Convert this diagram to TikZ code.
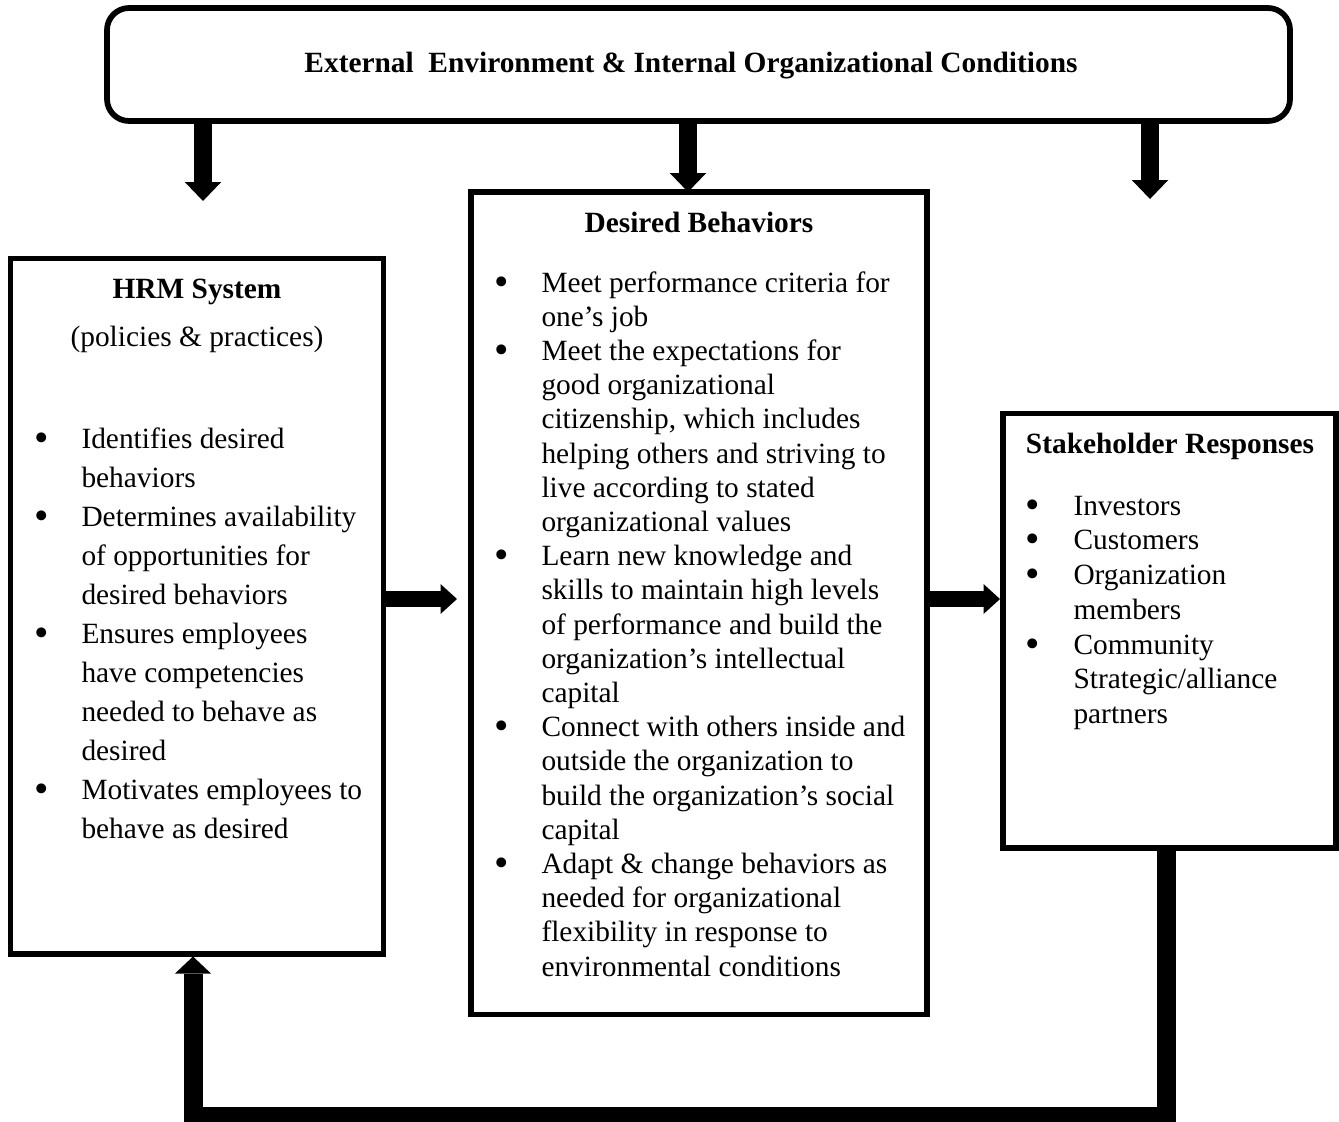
\documentclass[tikz,border=0pt]{standalone}
\usepackage{fontspec}
\setmainfont{Liberation Serif}
\usetikzlibrary{arrows.meta,positioning}
\newcommand{\itemfont}[1]{\fontsize{11.75pt}{#1}\selectfont}
\newcommand{\dotmark}{\smash{\raisebox{-1.2pt}{\fontsize{16.5pt}{0pt}\selectfont\textbullet}}}

\begin{document}
\begin{tikzpicture}[x=0.4pt,y=-0.4pt,
    blockbox/.style={draw,line width=2.1pt,inner sep=0pt,outer sep=0pt},
    boxtitle/.style={font=\fontsize{11.75pt}{14pt}\selectfont\bfseries,anchor=base,inner sep=0pt},
    boxtext/.style={anchor=base west,inner sep=0pt,align=left},
    downarrow/.style={line width=7.2pt,-{Triangle[width=14.6pt,length=7.6pt,line width=0pt]}},
    sidearrow/.style={line width=6.2pt,-{Triangle[width=12pt,length=6.6pt,line width=0pt]}},
    loopline/.style={line width=7.6pt,-{Triangle[width=14.4pt,length=6.8pt,line width=0pt]}}]
      \useasboundingbox (0,0) rectangle (1339,1121);
      \node[blockbox,rounded corners=8.8pt,line width=2.3pt,minimum width=473.2pt,minimum height=45.2pt]
        (env) at (698.5,64.5) {};
      \node[blockbox,minimum width=149.2pt,minimum height=278.2pt] (hrm) at (197,606.25) {};
      \node[blockbox,minimum width=182.4pt,minimum height=329pt] (desired) at (699,603.25) {};
      \node[blockbox,minimum width=133.2pt,minimum height=173.8pt] (stake) at (1169.5,630.75) {};

      \node[boxtitle] (envtitle) at (691,72) {External\ \ Environment \& Internal Organizational Conditions};

      \node[boxtitle] (hrmtitle) at (197,298) {HRM System};
      \node[boxtitle,font=\itemfont{14pt}] (hrmsub) at (197,346) {(policies \& practices)};
      \node[boxtext,font=\itemfont{15.6pt}] (hrmlist) at (34,448) {%
        \begin{tabular}[t]{@{}p{18.8pt}@{}l@{}}
        \dotmark & Identifies desired\\
         & behaviors\\
        \dotmark & Determines availability\\
         & of opportunities for\\
         & desired behaviors\\
        \dotmark & Ensures employees\\
         & have competencies\\
         & needed to behave as\\
         & desired\\
        \dotmark & Motivates employees to\\
         & behave as desired
        \end{tabular}};

      \node[boxtitle] (destitle) at (699,232) {Desired Behaviors};
      \node[boxtext,font=\itemfont{13.68pt}] (deslist) at (494,292) {%
        \begin{tabular}[t]{@{}p{18.8pt}@{}l@{}}
        \dotmark & Meet performance criteria for\\
         & one's job\\
        \dotmark & Meet the expectations for\\
         & good organizational\\
         & citizenship, which includes\\
         & helping others and striving to\\
         & live according to stated\\
         & organizational values\\
        \dotmark & Learn new knowledge and\\
         & skills to maintain high levels\\
         & of performance and build the\\
         & organization's intellectual\\
         & capital\\
        \dotmark & Connect with others inside and\\
         & outside the organization to\\
         & build the organization's social\\
         & capital\\
        \dotmark & Adapt \& change behaviors as\\
         & needed for organizational\\
         & flexibility in response to\\
         & environmental conditions
        \end{tabular}};

      \node[boxtitle] (staketitle) at (1170,453) {Stakeholder Responses};
      \node[boxtext,font=\itemfont{13.9pt}] (stakelist) at (1025,515) {%
        \begin{tabular}[t]{@{}p{19.2pt}@{}l@{}}
        \dotmark & Investors\\
        \dotmark & Customers\\
        \dotmark & Organization\\
         & members\\
        \dotmark & Community\\
         & Strategic/alliance\\
         & partners
        \end{tabular}};

      \coordinate (hrmin) at (203,201);
      \coordinate (desin) at (688,0);
      \coordinate (stakein) at (1150,199);
      \coordinate (hrmout) at (457,599);
      \coordinate (loopr) at (1166,1116);
      \coordinate (loopl) at (193,1116);

      \draw[downarrow] (env.south -| hrmin) -- (hrmin);
      \draw[downarrow] (env.south -| desin) -- (desired.north -| desin);
      \draw[downarrow] (env.south -| stakein) -- (stakein);
      \draw[sidearrow] (hrm.east |- hrmout) -- (hrmout);
      \draw[sidearrow] (desired.east |- hrmout) -- ([xshift=-1.2pt]stake.west |- hrmout);
      \draw[loopline] ([yshift=1.2pt]stake.south -| loopr) -- (loopr) -- (loopl)
        -- ([yshift=-1pt]hrm.south -| loopl);
\end{tikzpicture}
\end{document}
